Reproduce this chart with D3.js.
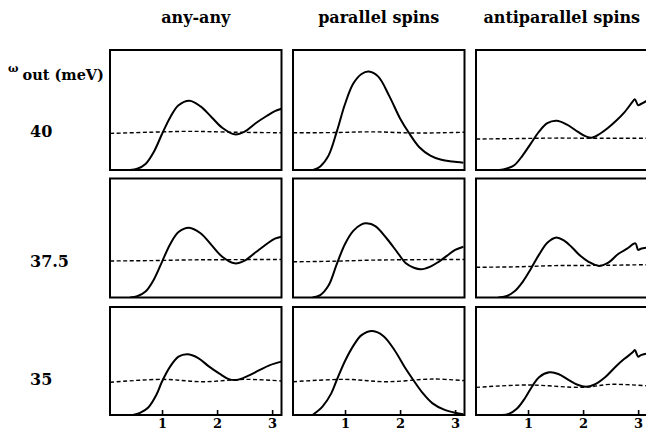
<!DOCTYPE html>
<html>
<head>
<meta charset="utf-8">
<script src="https://cdn.jsdelivr.net/npm/d3@7"></script>
<style>
  body { margin: 0; background: #fff; }
</style>
</head>
<body>
<div id="chart"></div>
<script>
// column headers and row labels (omega out, meV)
const columns = ["any-any", "parallel spins", "antiparallel spins"];
const rowLabels = ["40", "37.5", "35"];
const xTicks = [1, 2, 3];

// solid curves, [x, relative intensity]
const anyAny40 = [[0.42,0],[0.55,0.01],[0.7,0.05],[0.85,0.15],[1.0,0.3],[1.15,0.44],[1.3,0.54],[1.5,0.578],[1.7,0.53],[1.9,0.44],[2.1,0.35],[2.32,0.297],[2.5,0.32],[2.7,0.39],[2.9,0.45],[3.05,0.49],[3.17,0.51]];
const parallel40 = [[0.42,0],[0.55,0.03],[0.7,0.12],[0.85,0.32],[1.0,0.55],[1.15,0.72],[1.3,0.8],[1.43,0.82],[1.6,0.78],[1.8,0.62],[2.0,0.43],[2.16,0.31],[2.35,0.19],[2.55,0.12],[2.75,0.085],[2.95,0.07],[3.15,0.06]];
const anti40 = [[0.48,0],[0.6,0.01],[0.75,0.04],[0.9,0.12],[1.05,0.22],[1.2,0.32],[1.35,0.39],[1.52,0.41],[1.7,0.38],[1.9,0.32],[2.05,0.28],[2.17,0.27],[2.3,0.3],[2.45,0.35],[2.6,0.41],[2.75,0.48],[2.9,0.57],[2.94,0.59],[3.0,0.54],[3.05,0.55],[3.17,0.58]];

const anyAny375 = [[0.42,0],[0.55,0.01],[0.7,0.05],[0.85,0.15],[1.0,0.3],[1.15,0.45],[1.3,0.55],[1.49,0.587],[1.7,0.54],[1.9,0.44],[2.1,0.34],[2.32,0.287],[2.5,0.31],[2.7,0.38],[2.9,0.45],[3.05,0.495],[3.17,0.511]];
const parallel375 = [[0.41,0],[0.55,0.02],[0.7,0.1],[0.85,0.28],[1.0,0.45],[1.15,0.56],[1.3,0.615],[1.39,0.623],[1.55,0.6],[1.75,0.5],[1.95,0.38],[2.1,0.29],[2.25,0.25],[2.38,0.237],[2.55,0.26],[2.7,0.3],[2.85,0.35],[3.0,0.4],[3.15,0.427]];
const anti375 = [[0.46,0],[0.6,0.01],[0.75,0.05],[0.9,0.13],[1.05,0.24],[1.2,0.36],[1.35,0.46],[1.5,0.503],[1.65,0.48],[1.8,0.42],[1.95,0.35],[2.1,0.3],[2.29,0.265],[2.45,0.29],[2.65,0.37],[2.8,0.41],[2.95,0.455],[3.0,0.4],[3.05,0.41],[3.17,0.42]];

const anyAny35 = [[0.47,0],[0.6,0.02],[0.75,0.07],[0.9,0.19],[1.0,0.31],[1.15,0.45],[1.3,0.54],[1.46,0.562],[1.65,0.53],[1.85,0.45],[2.05,0.38],[2.2,0.335],[2.35,0.324],[2.55,0.36],[2.75,0.41],[2.95,0.46],[3.17,0.494]];
const parallel35 = [[0.41,0],[0.59,0.077],[0.75,0.2],[0.85,0.324],[1.0,0.5],[1.15,0.64],[1.3,0.74],[1.5,0.778],[1.7,0.73],[1.9,0.6],[2.1,0.43],[2.24,0.324],[2.4,0.21],[2.59,0.108],[2.8,0.05],[3.0,0.02],[3.15,0.006]];
const anti35 = [[0.52,0],[0.65,0.01],[0.8,0.06],[0.95,0.16],[1.08,0.269],[1.2,0.35],[1.39,0.395],[1.55,0.38],[1.75,0.32],[1.9,0.28],[2.05,0.262],[2.2,0.28],[2.4,0.35],[2.59,0.447],[2.75,0.52],[2.9,0.58],[2.94,0.602],[3.0,0.54],[3.05,0.555],[3.17,0.57]];

// dashed reference curves
const anyAny40Ref = [[0.06,0.305],[0.8,0.315],[1.5,0.322],[2.3,0.315],[3.17,0.31]];
const parallel40Ref = [[0.06,0.31],[0.8,0.312],[1.5,0.318],[2.3,0.308],[3.17,0.315]];
const anti40Ref = [[0.06,0.258],[0.8,0.262],[1.5,0.266],[2.3,0.264],[3.17,0.265]];
const anyAny375Ref = [[0.06,0.307],[0.8,0.31],[1.5,0.316],[2.3,0.318],[3.17,0.32]];
const parallel375Ref = [[0.06,0.3],[0.8,0.305],[1.5,0.314],[2.3,0.318],[3.17,0.32]];
const anti375Ref = [[0.06,0.254],[0.8,0.258],[1.5,0.268],[2.3,0.27],[3.17,0.276]];
const anyAny35Ref = [[0.06,0.303],[1.0,0.33],[1.75,0.308],[2.5,0.33],[3.17,0.315]];
const parallel35Ref = [[0.06,0.308],[1.0,0.33],[1.75,0.308],[2.6,0.333],[3.17,0.318]];
const anti35Ref = [[0.06,0.256],[1.0,0.278],[2.0,0.256],[2.5,0.284],[3.17,0.27]];

const solid = [[anyAny40, parallel40, anti40], [anyAny375, parallel375, anti375], [anyAny35, parallel35, anti35]];
const dashed = [[anyAny40Ref, parallel40Ref, anti40Ref], [anyAny375Ref, parallel375Ref, anti375Ref], [anyAny35Ref, parallel35Ref, anti35Ref]];

const width = 646, height = 433;
const colX = [110, 293, 476], panelW = 171.5;
const rowY = [50, 178.5, 307], rowH = [120, 119, 108];
const serif = "DejaVu Serif";

const svg = d3.select("#chart").append("svg")
    .attr("width", width)
    .attr("height", height)
    .style("font-family", serif)
    .style("font-weight", "bold");

// headers
svg.selectAll(".colTitle")
    .data(columns)
    .enter().append("text")
    .attr("class", "colTitle")
    .attr("x", (d, i) => colX[i] + panelW / 2)
    .attr("y", 23)
    .attr("text-anchor", "middle")
    .style("font-size", "16px")
    .text(d => d);

// omega label
const om = svg.append("text").attr("x", 8).attr("y", 80).style("font-size", "14.5px");
om.append("tspan").attr("dy", -8).style("font-size", "11px").text("ω");
om.append("tspan").attr("dy", 8).attr("dx", 4).text("out (meV)");

svg.selectAll(".rowLabel")
    .data(rowLabels)
    .enter().append("text")
    .attr("class", "rowLabel")
    .attr("x", 30)
    .attr("y", (d, i) => [136.5, 266.5, 385][i])
    .style("font-size", "16px")
    .text(d => d);

const line = d3.line().curve(d3.curveCatmullRom.alpha(0.5));

rowLabels.forEach((r, ri) => {
  columns.forEach((c, ci) => {
    const x = d3.scaleLinear().domain([0.055, 3.17]).range([colX[ci], colX[ci] + panelW]);
    const y = d3.scaleLinear().domain([0, 1]).range([rowY[ri] + rowH[ri], rowY[ri]]);
    line.x(d => x(d[0])).y(d => y(d[1]));

    const id = `clip-${ri}-${ci}`;
    svg.append("clipPath").attr("id", id)
      .append("rect")
      .attr("x", colX[ci]).attr("y", rowY[ri])
      .attr("width", panelW).attr("height", rowH[ri]);

    const g = svg.append("g").attr("clip-path", `url(#${id})`);
    g.append("path")
      .datum(dashed[ri][ci])
      .attr("d", line)
      .attr("fill", "none")
      .attr("stroke", "#000")
      .attr("stroke-width", 1.4)
      .attr("stroke-dasharray", "4,2.5");
    g.append("path")
      .datum(solid[ri][ci])
      .attr("d", line)
      .attr("fill", "none")
      .attr("stroke", "#000")
      .attr("stroke-width", 2);

    // frame
    svg.append("rect")
      .attr("x", colX[ci]).attr("y", rowY[ri])
      .attr("width", panelW).attr("height", rowH[ri])
      .attr("fill", "none")
      .attr("stroke", "#000")
      .attr("stroke-width", 2);

    if (ri === 2) {
      const axis = d3.axisBottom(x).tickValues(xTicks).tickSizeInner(-5).tickSizeOuter(0).tickPadding(4).tickFormat(d3.format("d"));
      const ax = svg.append("g").attr("transform", `translate(0,${rowY[ri] + rowH[ri]})`).call(axis);
      ax.select(".domain").remove();
      ax.selectAll(".tick line").attr("stroke", "#000").attr("stroke-width", 1.6);
      ax.selectAll(".tick text")
        .style("font-family", serif)
        .style("font-weight", "bold")
        .style("font-size", "13px");
    }
  });
});
</script>
</body>
</html>
